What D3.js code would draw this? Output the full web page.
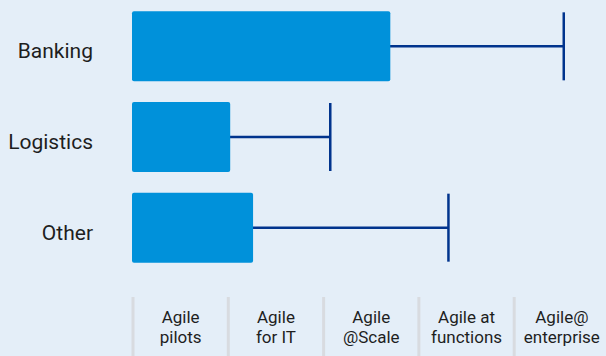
<!DOCTYPE html>
<html>
<head>
<meta charset="utf-8">
<script src="https://cdn.jsdelivr.net/npm/d3@7"></script>
<style>
  html, body { margin: 0; padding: 0; background: #e4eef8; }
  svg { display: block; font-family: Roboto, "Liberation Sans", sans-serif; }
  .cat { font-size: 21px; fill: #1e1e1e; text-anchor: end; }
  .stage { font-size: 17px; fill: #1e1e1e; text-anchor: middle; }
</style>
</head>
<body>
<div id="chart"></div>
<script>
// agile maturity by industry: bar = typical stage reached, whisker = most advanced
const industries = ["Banking", "Logistics", "Other"];
const typical = [2.7, 1.02, 1.26];
const leading = [4.52, 2.07, 3.31];
const stages = [["Agile", "pilots"], ["Agile", "for IT"], ["Agile", "@Scale"],
                ["Agile at", "functions"], ["Agile@", "enterprise"]];

const width = 606, height = 356;
const svg = d3.select("#chart").append("svg")
  .attr("width", width).attr("height", height);

svg.append("rect").attr("width", width).attr("height", height).attr("fill", "#e4eef8");

const x = d3.scaleLinear([0, stages.length], [133, 609.5]);
const y = d3.scaleBand(industries, [1, 273]).padding(0);
const barH = 70, capH = 68;

// stage columns along the bottom
svg.selectAll(".sep").data(stages).join("line")
  .attr("class", "sep")
  .attr("x1", (_, i) => x(i)).attr("x2", (_, i) => x(i))
  .attr("y1", 297).attr("y2", height)
  .attr("stroke", "#d8dbe0").attr("stroke-width", 3);

const lbl = svg.selectAll(".stage").data(stages).join("text")
  .attr("class", "stage")
  .attr("x", (_, i) => x(i + 0.5));
lbl.append("tspan").attr("x", (_, i) => x(i + 0.5)).attr("y", 323).text(d => d[0]);
lbl.append("tspan").attr("x", (_, i) => x(i + 0.5)).attr("y", 343).text(d => d[1]);

const cy = d => y(d) + y.bandwidth() / 2;

// whiskers under the bars
svg.selectAll(".wh").data(industries).join("line")
  .attr("x1", (_, i) => x(typical[i]) - 4).attr("x2", (_, i) => x(leading[i]))
  .attr("y1", d => cy(d)).attr("y2", d => cy(d))
  .attr("stroke", "#00338d").attr("stroke-width", 2.5);
svg.selectAll(".cap").data(industries).join("line")
  .attr("x1", (_, i) => x(leading[i])).attr("x2", (_, i) => x(leading[i]))
  .attr("y1", d => cy(d) - capH / 2).attr("y2", d => cy(d) + capH / 2)
  .attr("stroke", "#00338d").attr("stroke-width", 2.5);

svg.selectAll(".bar").data(industries).join("rect")
  .attr("x", x(0) - 1).attr("y", d => cy(d) - barH / 2)
  .attr("width", (_, i) => x(typical[i]) - x(0) + 1).attr("height", barH)
  .attr("rx", 2)
  .attr("fill", "#0091da");

svg.selectAll(".cat").data(industries).join("text")
  .attr("class", "cat")
  .attr("x", 93).attr("y", d => cy(d) + 12)
  .text(d => d);
</script>
</body>
</html>
